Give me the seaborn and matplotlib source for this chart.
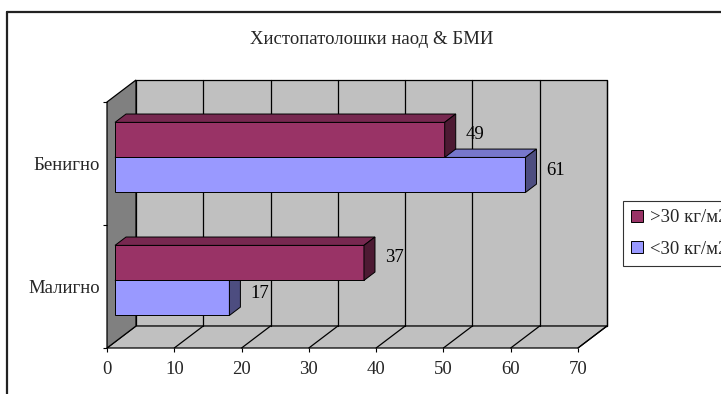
import matplotlib
matplotlib.use("Agg")
import numpy as np
import pandas as pd
import matplotlib.pyplot as plt
import seaborn as sns
from matplotlib.patches import Polygon, Patch
from matplotlib.lines import Line2D
from matplotlib import transforms as mtransforms

# ---- data -------------------------------------------------------------
categories = ["Бенигно", "Малигно"]
series = [">30 кг/м2", "<30 кг/м2"]
over_30 = [49, 37]
under_30 = [61, 17]
x_ticks = [0, 10, 20, 30, 40, 50, 60, 70]
title = "Хистопатолошки наод & БМИ"

df = pd.DataFrame({
    "category": categories * 2,
    "group": [series[0]] * len(categories) + [series[1]] * len(categories),
    "value": over_30 + under_30,
})

# ---- style ------------------------------------------------------------
sns.set_theme(style="white")
plt.rcParams["font.family"] = ["Liberation Serif", "DejaVu Serif"]
FS = 13.5

front_colors = ["#993366", "#9999ff"]
top_colors = ["#772850", "#7777cc"]
side_colors = ["#4d1a33", "#4d4d80"]
wall_color = "#c0c0c0"
side_wall_color = "#808080"

W, H, DPI = 721, 394, 100
fig = plt.figure(figsize=(W / DPI, H / DPI), dpi=DPI)
fig.patch.set_facecolor("white")
ax = fig.add_axes([107 / W, 1 - 348 / H, (578 - 107) / W, (348 - 102) / H])
ax.patch.set_visible(False)

# depth of the 3-D box and of the bars, in display pixels
DX, DY = 29.0, 22.0
BAR_OFF = 0.276          # bars sit this far into the box
BAR_DEPTH = 0.38         # thickness of a bar along the depth axis

sns.barplot(data=df, x="value", y="category", hue="group", orient="h",
            order=categories, hue_order=series, palette=front_colors,
            width=0.57, edgecolor="black", linewidth=0.7, saturation=1,
            legend=False, ax=ax)
ax.set_xlim(x_ticks[0], x_ticks[-1])
ax.set_ylim(len(categories) - 0.5, -0.5)
for s in ax.spines.values():
    s.set_visible(False)

to_fig = fig.transFigure.inverted()


def add_poly(pts, fc, z, lw=0.7, target=None):
    pts = to_fig.transform(np.asarray(pts))
    p = Polygon(pts, closed=True, facecolor=fc, edgecolor="black",
                linewidth=lw, transform=fig.transFigure, zorder=z,
                clip_on=False)
    (target or fig).add_artist(p)
    return p


# ---- 3-D box: back wall, floor, left wall, grid ----------------------
(x0, y0), (x1, y1) = ax.transAxes.transform([(0, 0), (1, 1)])
add_poly([(x0 + DX, y0 + DY), (x1 + DX, y0 + DY), (x1 + DX, y1 + DY),
          (x0 + DX, y1 + DY)], wall_color, -3, lw=0.9)
add_poly([(x0, y0), (x1, y0), (x1 + DX, y0 + DY), (x0 + DX, y0 + DY)],
         wall_color, -3, lw=0.9)
add_poly([(x0, y1), (x0 + DX, y1 + DY), (x0 + DX, y0 + DY), (x0, y0)],
         side_wall_color, -2, lw=0.9)
for t in x_ticks[1:]:
    xd = ax.transData.transform((t, 0))[0]
    pts = to_fig.transform([(xd + DX, y0 + DY), (xd + DX, y1 + DY)])
    fig.add_artist(Line2D(pts[:, 0], pts[:, 1], color="black", lw=0.9,
                          transform=fig.transFigure, zorder=-2))
    pts = to_fig.transform([(xd, y0), (xd + DX, y0 + DY)])
    fig.add_artist(Line2D(pts[:, 0], pts[:, 1], color="black", lw=0.9,
                          transform=fig.transFigure, zorder=-2))

# ---- bars: shift front faces into the box and add top / side faces ----
ox, oy = BAR_OFF * DX, BAR_OFF * DY
bx, by = BAR_DEPTH * DX, BAR_DEPTH * DY
shift = mtransforms.ScaledTranslation(ox / DPI, oy / DPI, fig.dpi_scale_trans)
bars = list(ax.patches)
n = len(categories)
for i, bar in enumerate(bars):
    level = i // n
    z = 4 if level == 0 else 3
    bar.set_zorder(z)
    bar.set_transform(ax.transData + shift)
    bx0, by0 = bar.get_x(), bar.get_y()
    bw, bh = bar.get_width(), bar.get_height()
    (L, T), (R, B) = ax.transData.transform([(bx0, by0), (bx0 + bw, by0 + bh)])
    L, R, T, B = L + ox, R + ox, T + oy, B + oy
    add_poly([(L, T), (R, T), (R + bx, T + by), (L + bx, T + by)],
             top_colors[level], z, target=ax)
    add_poly([(R, T), (R, B), (R + bx, B + by), (R + bx, T + by)],
             side_colors[level], z, target=ax)
    lab = mtransforms.ScaledTranslation(29 / DPI, 11 / DPI, fig.dpi_scale_trans)
    ax.text(bx0 + bw, by0 + bh / 2, f"{bw:g}", transform=ax.transData + lab,
            ha="left", va="center", fontsize=FS, color="black", zorder=6)

# ---- axes ticks -------------------------------------------------------
ax.set_xticks(x_ticks)
ax.set_xticklabels([str(t) for t in x_ticks])
ax.set_yticks(np.arange(-0.5, n, 1.0))
ax.set_yticklabels([])
ax.set_yticks(np.arange(n), minor=True)
ax.set_yticklabels(categories, minor=True)
ax.set_ylabel("")
ax.set_xlabel("")
ax.tick_params(axis="x", which="major", direction="out", length=3,
               width=0.8, color="black", pad=6.5, labelsize=FS,
               bottom=True)
ax.tick_params(axis="y", which="major", direction="out", length=3,
               width=0.8, color="black", left=True)
ax.tick_params(axis="y", which="minor", length=0, pad=5, labelsize=FS,
               left=True)
ax.grid(False)

# ---- title, legend, outer frame ---------------------------------------
fig.text(372 / W, 1 - 40 / H, title, ha="center", va="center", fontsize=FS)

handles = [Patch(facecolor=c, edgecolor="black", linewidth=0.7)
           for c in front_colors]
leg = fig.legend(handles, series, loc="upper left",
                 bbox_to_anchor=(623 / W, 1 - 201 / H), fontsize=FS,
                 frameon=True, fancybox=False, shadow=False,
                 handlelength=0.6, handleheight=0.6, handletextpad=0.4,
                 labelspacing=0.75, borderpad=0.45, borderaxespad=0)
leg.get_frame().set_edgecolor("black")
leg.get_frame().set_linewidth(0.8)
leg.get_frame().set_facecolor("white")

for xs, ys in [([7 / W, 7 / W], [0, 1 - 12 / H]),
               ([7 / W, 1.0], [1 - 12 / H, 1 - 12 / H])]:
    fig.add_artist(Line2D(xs, ys, color="#222222", lw=1.6,
                          transform=fig.transFigure))

fig.savefig("out.png", dpi=DPI)
